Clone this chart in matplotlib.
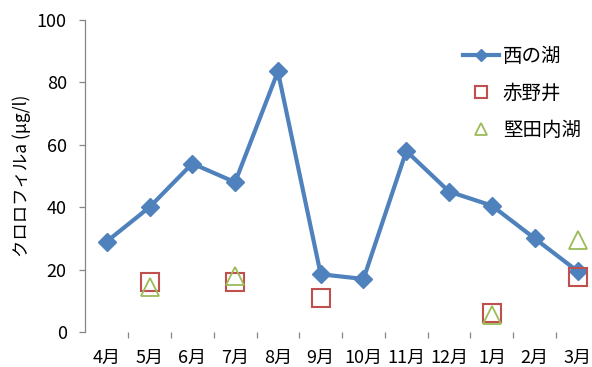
import matplotlib
matplotlib.use("Agg")
import matplotlib.pyplot as plt
from matplotlib.ticker import FixedLocator

plt.rcParams['font.family'] = ['Noto Sans CJK JP', 'DejaVu Sans']

# data
months = ['4月', '5月', '6月', '7月', '8月', '9月', '10月', '11月', '12月', '1月', '2月', '3月']
nishinoko = [29, 40, 54, 48, 83.5, 18.5, 17, 58, 45, 40.5, 30, 19.5]
akanoi = [None, 16, None, 16, None, 11, None, None, None, 6, None, 17.5]
katata = [None, 14.5, None, 18, None, None, None, None, None, 5.5, None, 29.5]
yticks = [0, 20, 40, 60, 80, 100]

blue = '#4F81BD'
red = '#C0504D'
green = '#9BBB59'
grey = '#868686'

x = list(range(len(months)))

fig = plt.figure(figsize=(5.92, 3.67), dpi=100)
ax = fig.add_axes([85.3 / 592, 1 - 332 / 367, 513.6 / 592, 312 / 367])

ax.plot(x, nishinoko, color=blue, lw=3, marker='D', ms=8.7,
        mfc=blue, mec=blue, label='西の湖', zorder=3)

xa = [i for i, v in zip(x, akanoi) if v is not None]
ya = [v for v in akanoi if v is not None]
ax.plot(xa, ya, ls='none', marker='s', ms=12.5, mfc='none', mec=red,
        mew=1.5, label='赤野井', zorder=4)

xk = [i for i, v in zip(x, katata) if v is not None]
yk = [v for v in katata if v is not None]
ax.plot(xk, yk, ls='none', marker='^', ms=13, mfc='none', mec=green,
        mew=1.3, label='堅田内湖', zorder=5)

ax.set_xlim(-0.5, len(months) - 0.5)
ax.set_ylim(0, 100)
ax.set_yticks(yticks)
ax.set_xticks(x)
ax.set_xticklabels(months)
ax.xaxis.set_minor_locator(FixedLocator([i + 0.5 for i in x]))

for s in ['top', 'right', 'bottom']:
    ax.spines[s].set_visible(False)
ax.spines['left'].set_color(grey)
ax.spines['left'].set_linewidth(0.9)

ax.tick_params(axis='y', direction='out', length=4.3, color=grey, width=0.9,
               labelsize=13, pad=9)
ax.tick_params(axis='x', which='major', length=0, labelsize=13, pad=12)
ax.tick_params(axis='x', which='minor', direction='out', length=4.3,
               color=grey, width=0.9)

ax.set_ylabel('クロロフィルa (μg/l)', fontsize=12.5)
ax.yaxis.set_label_coords(-0.105, 0.5)

leg = ax.legend(loc='upper left', bbox_to_anchor=(463 / 592, 1 - 46 / 367),
                bbox_transform=fig.transFigure, frameon=False, fontsize=14,
                markerscale=0.7, handlelength=1.85, handletextpad=0.2,
                labelspacing=0.82, borderpad=0, borderaxespad=0)

fig.savefig('out.png', dpi=100)
